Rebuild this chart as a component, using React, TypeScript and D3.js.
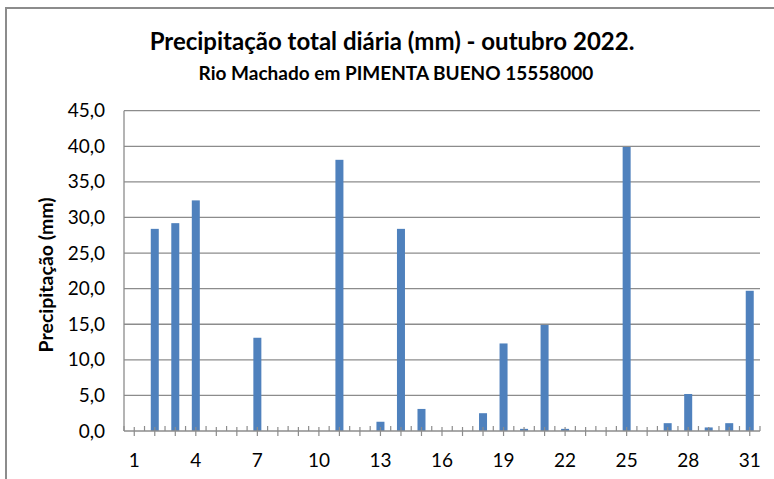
import * as d3 from 'd3';

const days = d3.range(1, 32).map(String);
const rain = [
  0, 28.4, 29.2, 32.4, 0, 0, 13.1, 0, 0, 0,
  38.1, 0, 1.3, 28.4, 3.1, 0, 0, 2.5, 12.3, 0.3,
  14.9, 0.3, 0, 0, 39.9, 0, 1.1, 5.2, 0.5, 1.1,
  19.7,
];
const yTicks = d3.range(0, 46, 5);
const xLabels = ['1', '4', '7', '10', '13', '16', '19', '22', '25', '28', '31'];

const title = 'Precipitação total diária (mm) - outubro 2022.';
const subtitle = 'Rio Machado em PIMENTA BUENO 15558000';
const yTitle = 'Precipitação (mm)';

const W = 774;
const H = 479;
const left = 124;
const right = 760;
const top = 110.7;
const bottom = 431;
const font = 'Lato, "Open Sans", sans-serif';
const gray = '#8c8c8c';

export default function App() {
  const x = d3.scaleBand<string>().domain(days).range([left, right]).paddingInner(0.61).paddingOuter(0.305);
  const y = d3.scaleLinear().domain([0, 45]).range([bottom, top]);
  const step = x.step();
  const center = (d: string) => (x(d) ?? 0) + x.bandwidth() / 2;
  const fmt = (v: number) => d3.format('.1f')(v).replace('.', ',');

  return (
    <svg width={W} height={H} style={{ position: 'absolute', left: 0, top: 0 }} fontFamily={font}>
      <rect x={0} y={0} width={W} height={H} fill="#fff" />
      <rect x={6} y={8} width={W + 10} height={H + 10} fill="none" stroke={gray} strokeWidth={2} />

      <text x={392} y={50} textAnchor="middle" fontSize={24} fontWeight="bold" fill="#000">{title}</text>
      <text x={396} y={80} textAnchor="middle" fontSize={19} fontWeight="bold" fill="#000">{subtitle}</text>

      {/* gridlines */}
      {yTicks.filter(t => t > 0).map(t => (
        <line key={t} x1={left} x2={right} y1={y(t)} y2={y(t)} stroke={gray} strokeWidth={1.3} />
      ))}
      <line x1={left} x2={left} y1={top} y2={bottom} stroke={gray} strokeWidth={1.3} />

      {/* bars */}
      {rain.map((v, i) => v > 0 && (
        <rect key={i} x={x(days[i])} y={y(v)} width={x.bandwidth()} height={bottom - y(v)} fill="#4f81bd" />
      ))}

      {/* x axis */}
      <line x1={left} x2={right} y1={bottom} y2={bottom} stroke={gray} strokeWidth={1.3} />
      {days.map(d => (
        <line key={'c' + d} x1={center(d)} x2={center(d)} y1={bottom - 4} y2={bottom + 5} stroke={gray} strokeWidth={1.2} />
      ))}
      {d3.range(0, 32).map(i => (
        <line key={'b' + i} x1={left + i * step} x2={left + i * step} y1={bottom - 5} y2={bottom} stroke={gray} strokeWidth={1.2} />
      ))}
      {xLabels.map(d => (
        <text key={d} x={center(d)} y={467} textAnchor="middle" fontSize={19} fill="#000">{d}</text>
      ))}

      {/* y axis labels */}
      {yTicks.map(t => (
        <text key={t} x={105} y={y(t) + 6.5} textAnchor="end" fontSize={19} fill="#000">{fmt(t)}</text>
      ))}
      <text transform={`translate(53,${(top + bottom) / 2 + 4}) rotate(-90)`} textAnchor="middle" fontSize={19.5} fontWeight="bold" fill="#000">{yTitle}</text>
    </svg>
  );
}
